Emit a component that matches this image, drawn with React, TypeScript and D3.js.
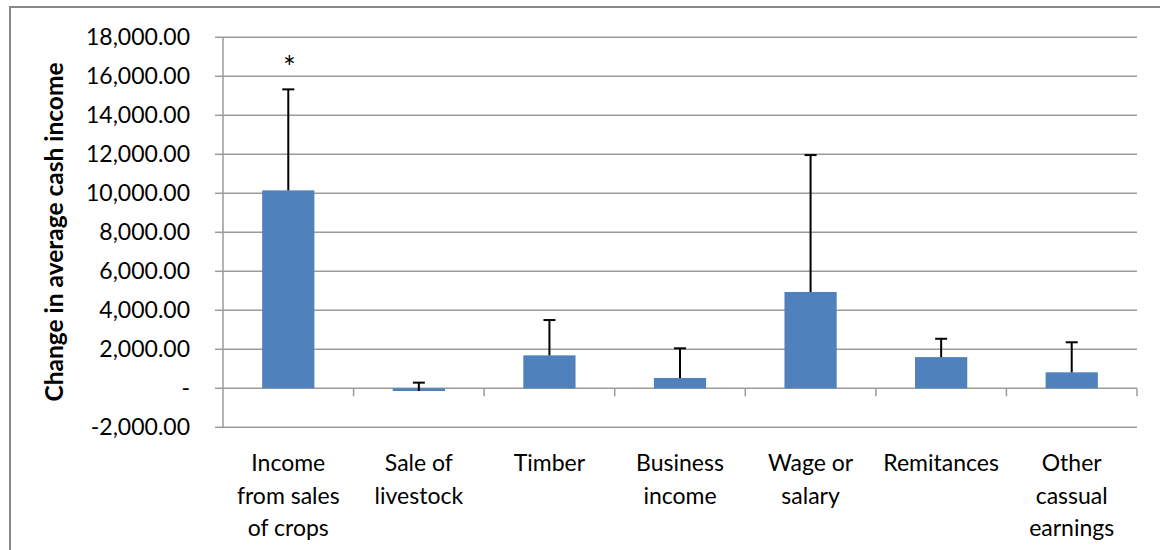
import React from "react";
import * as d3 from "d3";

const categories: string[][] = [
  ["Income", "from sales", "of crops"],
  ["Sale of", "livestock"],
  ["Timber"],
  ["Business", "income"],
  ["Wage or", "salary"],
  ["Remitances"],
  ["Other", "cassual", "earnings"],
];
const values: number[] = [10150, -140, 1690, 530, 4940, 1600, 820];
const errors: number[] = [5180, 430, 1810, 1520, 7020, 940, 1540];
const significant: boolean[] = [true, false, false, false, false, false, false];
const yTicks: number[] = [-2000, 0, 2000, 4000, 6000, 8000, 10000, 12000, 14000, 16000, 18000];
const yTitle = "Change in average cash income";

const W = 1160;
const H = 550;
const FONT = "Lato, 'Open Sans', sans-serif";

export default function App() {
  const x0 = 223;
  const x1 = 1137;
  const y = d3.scaleLinear().domain([-2000, 18000]).range([427.3, 37.3]);
  const keys = categories.map((_, i) => String(i));
  const x = d3.scaleBand<string>().domain(keys).range([x0, x1]).paddingInner(0.6).paddingOuter(0.3);
  const step = x.step();
  const fmt = (v: number) => (v === 0 ? "-" : d3.format(",.2f")(v).replace("\u2212", "-"));
  const grid = "#9b9b9b";
  const barColor = "#4f81bd";

  return (
    <svg width={W} height={H} style={{ position: "absolute", left: 0, top: 0, background: "#fff" }}>
      <rect x={10} y={7} width={1300} height={700} fill="#fff" stroke="#888" strokeWidth={2} />
      {/* gridlines */}
      {yTicks.map((t) => (
        <g key={t}>
          <line x1={x0} x2={x1} y1={y(t)} y2={y(t)} stroke={grid} strokeWidth={1.5} />
          <line x1={x0 - 8} x2={x0} y1={y(t)} y2={y(t)} stroke={grid} strokeWidth={1.5} />
          <text x={190} y={y(t) + 8} textAnchor="end" fontFamily={FONT} fontSize={23} fill="#000">
            {fmt(t)}
          </text>
        </g>
      ))}
      {/* y axis */}
      <line x1={x0} x2={x0} y1={y(18000)} y2={y(-2000)} stroke={grid} strokeWidth={1.5} />
      {/* category ticks */}
      {keys.map((k) => {
        const bx = (x(k) as number) - (step - x.bandwidth()) / 2 + step;
        return <line key={"t" + k} x1={bx} x2={bx} y1={y(0)} y2={y(0) + 8} stroke={grid} strokeWidth={1.5} />;
      })}
      {/* bars */}
      {values.map((v, i) => {
        const k = keys[i];
        const bx = x(k) as number;
        const top = y(Math.max(0, v));
        const bot = y(Math.min(0, v));
        const cx = bx + x.bandwidth() / 2;
        const ey = y(v + errors[i]);
        return (
          <g key={"b" + i}>
            <rect x={bx} y={top} width={x.bandwidth()} height={bot - top} fill={barColor} />
            <line x1={cx} x2={cx} y1={y(v)} y2={ey} stroke="#000" strokeWidth={2} />
            <line x1={cx - 6} x2={cx + 6} y1={ey} y2={ey} stroke="#000" strokeWidth={2} />
            {significant[i] && (
              <text x={cx + 1} y={ey - 11} textAnchor="middle" fontFamily={FONT} fontSize={30} fill="#000">
                *
              </text>
            )}
          </g>
        );
      })}
      {/* category labels */}
      {categories.map((lines, i) => {
        const cx = (x(keys[i]) as number) + x.bandwidth() / 2;
        return (
          <text key={"c" + i} textAnchor="middle" fontFamily={FONT} fontSize={23} fill="#000">
            {lines.map((l, j) => (
              <tspan key={j} x={cx} y={471 + j * 32.5}>
                {l}
              </tspan>
            ))}
          </text>
        );
      })}
      {/* y title */}
      <text
        transform={`translate(63, ${232}) rotate(-90)`}
        textAnchor="middle"
        fontFamily={FONT}
        fontWeight="bold"
        fontSize={24.5}
        fill="#000"
      >
        {yTitle}
      </text>
    </svg>
  );
}
